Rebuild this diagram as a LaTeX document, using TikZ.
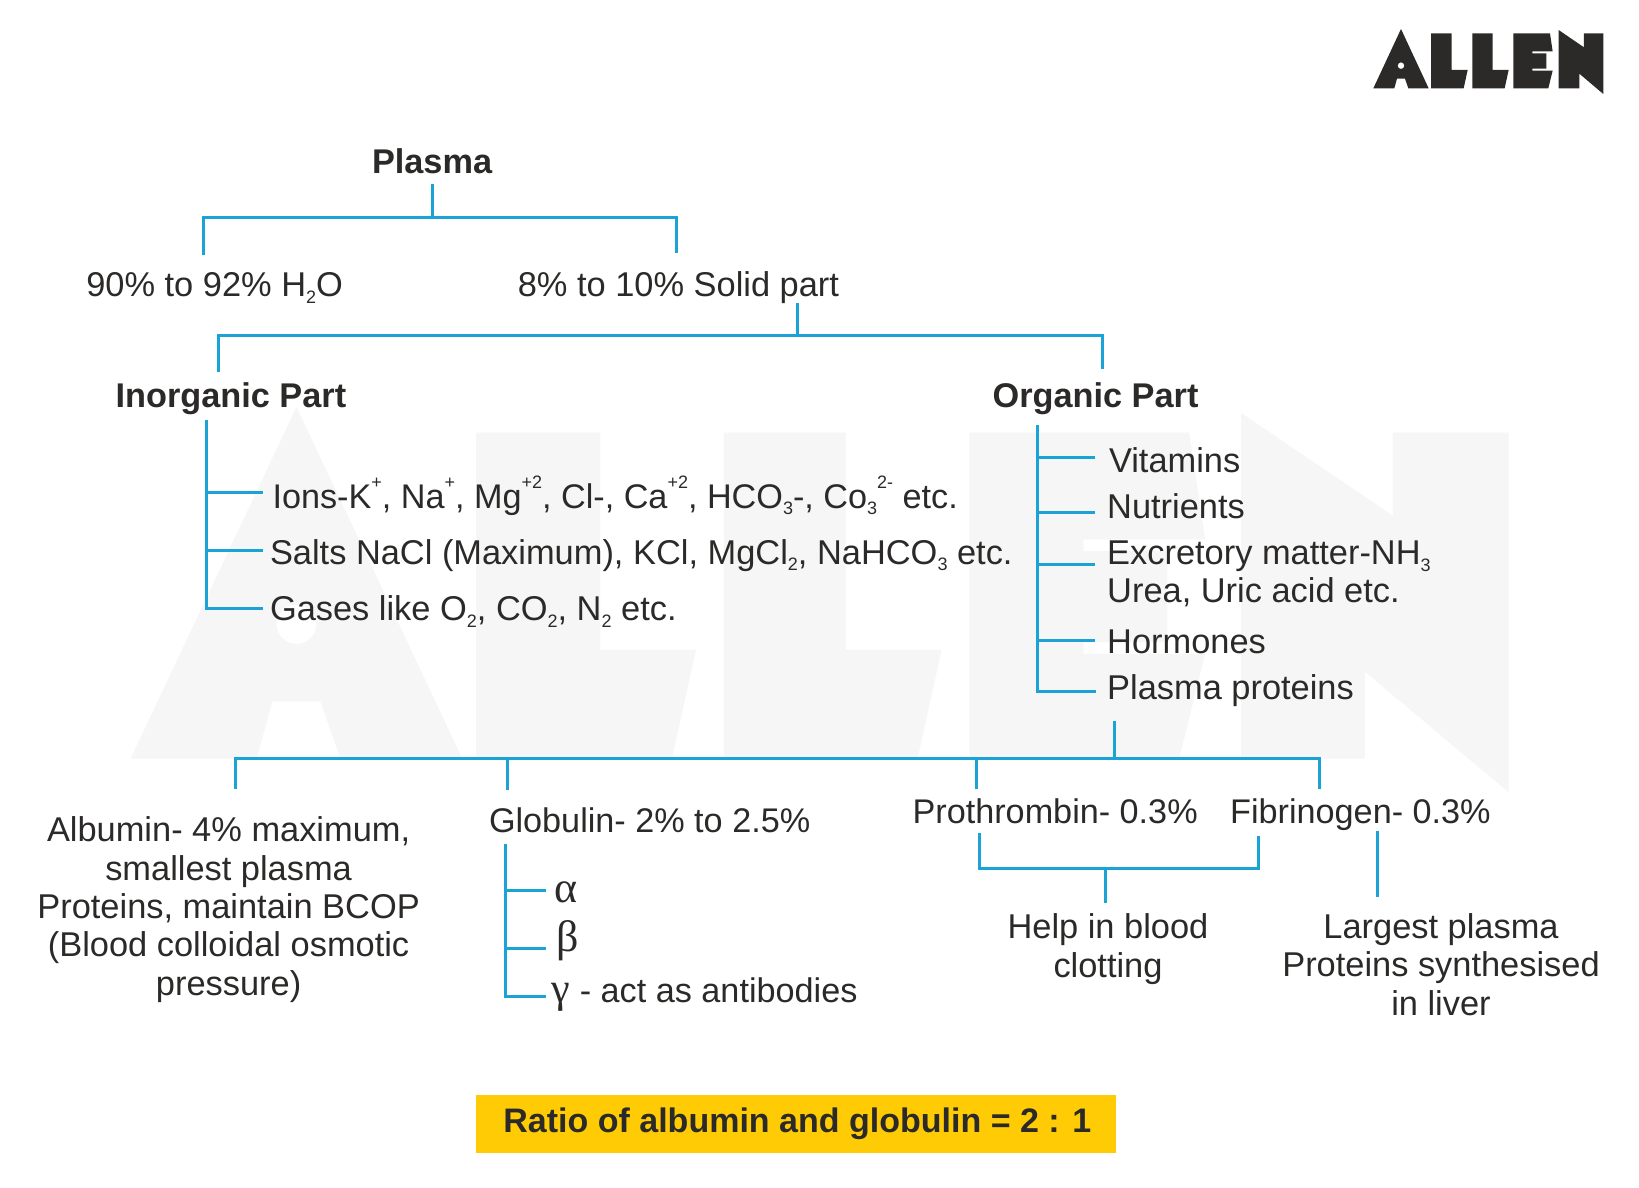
\documentclass[tikz,border=0pt]{standalone}
\usepackage{fontspec}
\setmainfont{Liberation Sans}
\newfontfamily\grk{Liberation Serif}
\definecolor{linkblue}{HTML}{1BA3D6}
\definecolor{inkdark}{HTML}{2B2A29}
\definecolor{wmgray}{HTML}{F6F6F6}
\definecolor{ratiobg}{HTML}{FFCB05}
\newcommand{\sbx}[1]{\raisebox{-0.2em}{\fontsize{18}{18}\selectfont #1}}
\newcommand{\spx}[1]{\raisebox{0.58em}{\fontsize{18}{18}\selectfont #1}}
\newcommand{\allenshape}{%
 (303,87) -- (386,265) -- (325,265) -- (315,236) -- (291,236) -- (283,265) -- (220,265) -- cycle
 (303,197) circle [radius=10]
 (393,100) -- (455,100) -- (455,210) -- (503,210) -- (491,265) -- (393,265) -- cycle
 (517,100) -- (578,100) -- (578,210) -- (626,210) -- (614,265) -- (517,265) -- cycle
 (640,100) -- (750,100) -- (758,154) -- (697,154) -- (697,160) -- (739,160) -- (739,206) -- (697,206) -- (697,212) -- (758,212) -- (745,265) -- (640,265) -- cycle
 (776,90) -- (852,142) -- (852,100) -- (910,100) -- (910,282) -- (838,221) -- (838,265) -- (776,265) -- cycle
}
\tikzset{
 x=1pt,y=-1pt,
 txt/.style={inner sep=0pt,outer sep=0pt,anchor=base west,text=inkdark,font=\fontsize{34.4}{38.6}\selectfont},
 txtb/.style={txt,font=\fontsize{34.2}{38.6}\selectfont},
 mid/.style={inner sep=0pt,outer sep=0pt,anchor=base,text=inkdark,font=\fontsize{34.4}{38.6}\selectfont},
 hd/.style={txt,font=\fontsize{34.3}{38.6}\selectfont\bfseries},
 link/.style={draw=linkblue,line width=3pt,line join=miter},
}
\begin{document}
\begin{tikzpicture}
\useasboundingbox (0,0) rectangle (1639,1187);
\fill[white] (0,0) rectangle (1639,1187);
% watermark
\begin{scope}[shift={(-308.6,235.2)},xscale=1.997,yscale=1.975]
 \fill[wmgray,even odd rule] \allenshape;
\end{scope}
% logo
\begin{scope}[shift={(1300,0)},xscale=0.3333,yscale=0.3333]
 \fill[inkdark,even odd rule] \allenshape;
\end{scope}
% ratio box
\node[minimum width=640pt,minimum height=58.2pt,inner sep=0pt,fill=ratiobg,anchor=north west] (ratiobox) at (476,1094.5) {};
\node[hd,anchor=base west,font=\fontsize{34}{38.6}\selectfont\bfseries] (ratio) at (503.4,1132) {Ratio of albumin and globulin = 2 : 1};
% texts
\node[hd] (plasma) at (372,173) {Plasma};
\node[txt] (water) at (86.3,296.5) {90\% to 92\% H\sbx{2}O};
\node[txt] (solid) at (517.8,296) {8\% to 10\% Solid part};
\node[hd] (inorg) at (115.6,407) {Inorganic Part};
\node[hd] (org) at (992.6,407) {Organic Part};
\node[txtb] (ions) at (272.5,508) {Ions-K\spx{+}, Na\spx{+}, Mg\spx{+2}, Cl-, Ca\spx{+2}, HCO\sbx{3}-, Co\sbx{3}\spx{2-} etc.};
\node[txt] (salts) at (270,564) {Salts NaCl (Maximum), KCl, MgCl\sbx{2}, NaHCO\sbx{3} etc.};
\node[txt] (gases) at (270,620.5) {Gases like O\sbx{2}, CO\sbx{2}, N\sbx{2} etc.};
\node[txt] (vit) at (1109,472) {Vitamins};
\node[txt] (nut) at (1107.2,518.5) {Nutrients};
\node[txt] (exc) at (1107.2,564.5) {Excretory matter-NH\sbx{3}};
\node[txt] (urea) at (1107.2,602.5) {Urea, Uric acid etc.};
\node[txt] (horm) at (1107.2,653.5) {Hormones};
\node[txt] (pp) at (1107.2,699.3) {Plasma proteins};
\node[mid] (alb1) at (228.6,841.8) {Albumin- 4\% maximum,};
\node[mid] (alb2) at (228.6,880) {smallest plasma};
\node[mid] (alb3) at (228.6,918.2) {Proteins, maintain BCOP};
\node[mid] (alb4) at (228.6,956.8) {(Blood colloidal osmotic};
\node[mid] (alb5) at (228.6,995.4) {pressure)};
\node[txtb] (glob) at (489,832.7) {Globulin- 2\% to 2.5\%};
\node[txt,font=\fontsize{44}{44}\selectfont] (alpha) at (554.4,902) {\grk α};
\node[txt,font=\fontsize{44}{44}\selectfont] (beta) at (556,951) {\grk β};
\node[txtb] (gamma) at (551.8,1002.5) {{\fontsize{42}{42}\selectfont\grk γ} - act as antibodies};
\node[txtb] (proth) at (912.6,823) {Prothrombin- 0.3\%};
\node[txtb] (fibr) at (1230.2,823) {Fibrinogen- 0.3\%};
\node[mid] (help1) at (1108,938) {Help in blood};
\node[mid] (help2) at (1108,977) {clotting};
\node[mid] (larg1) at (1441,938) {Largest plasma};
\node[mid] (larg2) at (1441,976.5) {Proteins synthesised};
\node[mid] (larg3) at (1441,1015) {in liver};
% junction coordinates
\coordinate (a0) at (432.5,184.3); \coordinate (a1) at (432.5,217.7);
\coordinate (aL) at (203.5,255); \coordinate (aR) at (676.8,253);
\coordinate (b0) at (797.6,303); \coordinate (b1) at (797.6,335);
\coordinate (bL) at (218.6,371.7); \coordinate (bR) at (1102.4,369);
\coordinate (c0) at (206.6,420); \coordinate (c1) at (263,492.3);
\coordinate (c2) at (263,550.7); \coordinate (c3) at (263,608.3);
\coordinate (d0) at (1037.6,425); \coordinate (d1) at (1094.6,457);
\coordinate (d2) at (1094.6,512.7); \coordinate (d3) at (1094.6,564.3);
\coordinate (d4) at (1094.6,640.7); \coordinate (d5) at (1095.5,691.6);
\coordinate (e0) at (1114.5,721); \coordinate (e1) at (1114.5,758);
\coordinate (eA) at (235.4,789); \coordinate (eB) at (507.8,789.5);
\coordinate (eC) at (976.4,789); \coordinate (eD) at (1319.5,789);
\coordinate (f0) at (505.2,844); \coordinate (f1) at (546,890);
\coordinate (f2) at (546,948.5); \coordinate (f3) at (546,996);
\coordinate (g0) at (979.5,833); \coordinate (g1) at (1258.3,836);
\coordinate (g2) at (1105.6,868); \coordinate (g3) at (1105.6,903);
\coordinate (h0) at (1377,830.5); \coordinate (h1) at (1377,897);
% connectors
\draw[link] (a0) -- (a1);
\draw[link] (aL) |- (a1) -| (aR);
\draw[link] (b0) -- (b1);
\draw[link] (bL) |- (b1) -| (bR);
\draw[link] (c0) |- (c3);
\draw[link] (c0 |- c1) -- (c1);
\draw[link] (c0 |- c2) -- (c2);
\draw[link] (d0) |- (d5);
\draw[link] (d0 |- d1) -- (d1);
\draw[link] (d0 |- d2) -- (d2);
\draw[link] (d0 |- d3) -- (d3);
\draw[link] (d0 |- d4) -- (d4);
\draw[link] (e0) -- (e1);
\draw[link] (eA) |- (e1) -| (eD);
\draw[link] (eB) -- (eB |- e1);
\draw[link] (eC) -- (eC |- e1);
\draw[link] (f0) |- (f3);
\draw[link] (f0 |- f1) -- (f1);
\draw[link] (f0 |- f2) -- (f2);
\draw[link] (g0) |- (g2) -| (g1);
\draw[link] (g2) -- (g3);
\draw[link] (h0) -- (h1);
\end{tikzpicture}
\end{document}
